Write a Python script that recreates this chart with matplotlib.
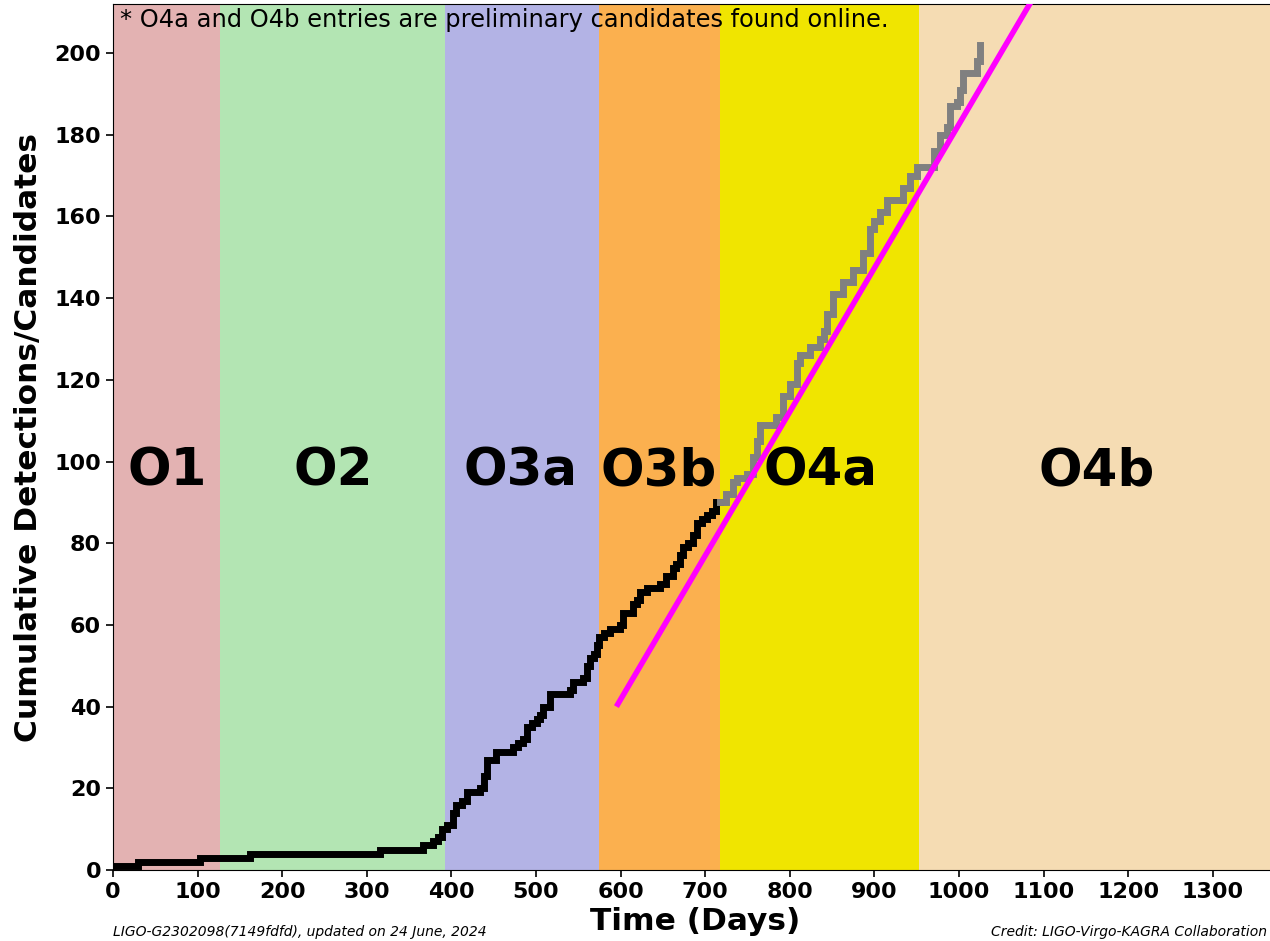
import matplotlib
matplotlib.use("Agg")
import matplotlib.pyplot as plt

# Observing runs: name, start day, end day, colour
run_names = ["O1", "O2", "O3a", "O3b", "O4a", "O4b"]
run_starts = [0, 127, 392, 574, 718, 953]
run_ends = [127, 392, 574, 718, 953, 1377]
run_colors = ["#e3b2b2", "#b3e5b3", "#b3b3e5", "#fbb04f", "#f0e500", "#f5dcb3"]
run_label_x = [64, 260, 482, 645, 836, 1163]

# Confirmed detections (O1 - O3): step positions and running totals
conf_days = [0, 30, 103, 162, 316, 367, 378, 384, 389, 395, 402, 406, 412,
             418, 434, 438, 442, 453, 473, 479, 485, 489, 495, 501, 505, 508,
             516, 540, 544, 556, 560, 564, 568, 572, 575, 580, 587, 599, 603,
             615, 619, 623, 631, 646, 654, 662, 666, 670, 674, 680, 686, 690,
             696, 702, 708, 713, 718]
conf_counts = [1, 2, 3, 4, 5, 6, 7, 8, 10, 11, 14, 16, 17, 19, 20, 23, 27,
               29, 30, 31, 32, 35, 36, 37, 38, 40, 43, 44, 46, 47, 50, 52, 53,
               55, 57, 58, 59, 60, 63, 65, 66, 68, 69, 70, 72, 74, 75, 77, 79,
               80, 82, 85, 86, 87, 88, 90, 90]

# Preliminary online candidates (O4)
cand_days = [718, 725, 733, 737, 749, 757, 761, 765, 777, 784, 792, 800, 808,
             812, 824, 836, 840, 844, 851, 863, 875, 887, 895, 899, 907, 915,
             930, 934, 942, 950, 962, 970, 978, 986, 989, 997, 1001, 1005,
             1021, 1025]
cand_counts = [90, 92, 95, 96, 97, 101, 105, 109, 109, 111, 116, 119, 124,
               126, 128, 130, 132, 136, 141, 144, 147, 151, 157, 159, 161, 164,
               164, 167, 170, 172, 172, 176, 180, 182, 187, 188, 191, 195,
               198, 202]

# Linear trend line
trend_days = [595, 1100]
trend_counts = [40, 217.8]

fig = plt.figure(figsize=(12.7, 9.41), dpi=100)
ax = fig.add_axes([113 / 1270, 71 / 941, 1165 / 1270, 866 / 941])

for name, x0, x1, c, lx in zip(run_names, run_starts, run_ends, run_colors, run_label_x):
    ax.axvspan(x0, x1, color=c, lw=0, zorder=0)
    ax.text(lx, 97.5, name, fontsize=37, fontweight="bold", ha="center",
            va="center", zorder=1)

ax.step(conf_days, conf_counts, where="post", color="black", lw=5,
        solid_joinstyle="miter", zorder=3)
ax.step(cand_days, cand_counts, where="post", color="gray", lw=5,
        solid_joinstyle="miter", zorder=3)
ax.plot(trend_days, trend_counts, color="magenta", lw=4,
        solid_capstyle="butt", zorder=4)

ax.set_xlim(0, 1377)
ax.set_ylim(0, 212)
ax.set_xticks(range(0, 1301, 100))
ax.set_yticks(range(0, 201, 20))
ax.tick_params(labelsize=16, width=1.2, length=5)
for lab in ax.get_xticklabels() + ax.get_yticklabels():
    lab.set_fontweight("bold")

ax.set_xlabel("Time (Days)", fontsize=22.5, fontweight="bold", labelpad=4)
ax.set_ylabel("Cumulative Detections/Candidates", fontsize=22.5,
              fontweight="bold", labelpad=8)

ax.text(0.006, 0.995, "* O4a and O4b entries are preliminary candidates found online.",
        transform=ax.transAxes, fontsize=17.4, ha="left", va="top", zorder=5)

fig.text(113 / 1270, 1 - 936 / 941, "LIGO-G2302098(7149fdfd), updated on 24 June, 2024",
         fontsize=10, style="italic", ha="left", va="baseline")
fig.text(1267 / 1270, 1 - 936 / 941, "Credit: LIGO-Virgo-KAGRA Collaboration",
         fontsize=10, style="italic", ha="right", va="baseline")

fig.savefig("out.png", dpi=100)
